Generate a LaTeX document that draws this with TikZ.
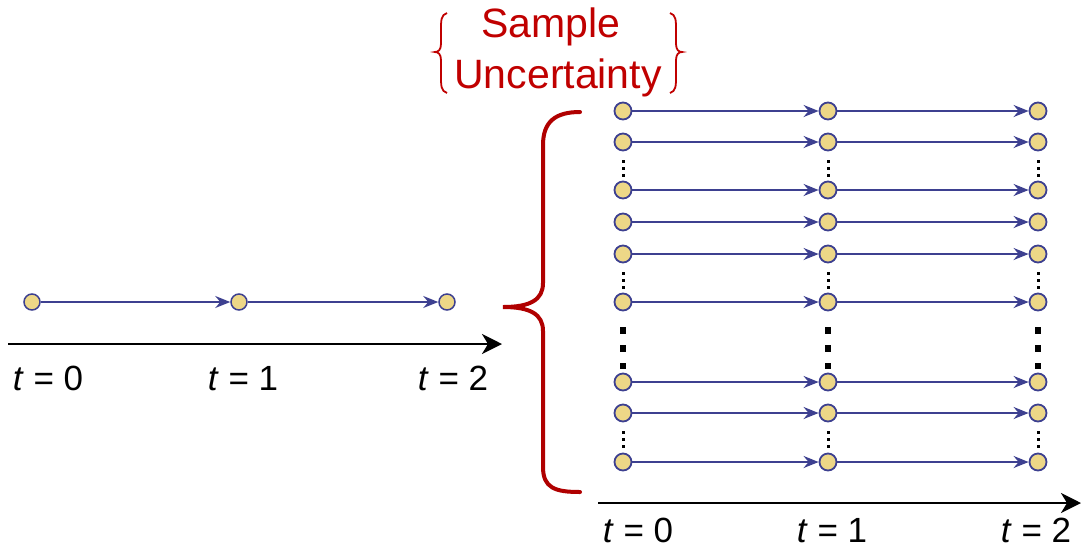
\documentclass[tikz,border=0pt]{standalone}
\usepackage{fontspec}
\setmainfont{Liberation Sans}
\usepackage{tikz}
\usetikzlibrary{arrows.meta,positioning,calc}
\definecolor{sublue}{HTML}{3D4090}
\definecolor{suyellow}{HTML}{EDD787}
\definecolor{sured}{HTML}{B00000}
\definecolor{sutext}{HTML}{C00000}

\tikzset{
  state/.style={circle, draw=sublue, fill=suyellow, line width=1.8pt, minimum size=17pt, inner sep=0pt},
  trans/.style={draw=sublue, line width=2.2pt, -{Stealth[length=15pt,width=12pt,inset=5pt]}},
  timeaxis/.style={draw=black, line width=2.8pt, -{Stealth[length=20pt,width=20pt,inset=6pt]}},
  tlabel/.style={anchor=base, inner sep=0pt, font=\fontsize{35}{40}\selectfont},
  smalldots/.style={draw=black, line width=3pt, dash pattern=on 3pt off 4pt, shorten <=9pt, shorten >=3pt},
  bigdots/.style={draw=black, line width=6.5pt, dash pattern=on 6.5pt off 11.5pt, shorten <=16pt, shorten >=4pt},
}

\begin{document}
\begin{tikzpicture}[x=1pt,y=-1pt]
\useasboundingbox (0,0) rectangle (1081,550);

% single path
\node[state, line width=1.5pt, minimum size=16pt] (s0) at (32,302) {};
\node[state, line width=1.5pt, minimum size=16pt] (s1) at (239,302) {};
\node[state, line width=1.5pt, minimum size=16pt] (s2) at (447,302) {};
\draw[trans, line width=1.8pt] (s0) -- (s1);
\draw[trans, line width=1.8pt] (s1) -- (s2);

\coordinate (la0) at (8,344);
\coordinate (la1) at (502,344);
\draw[timeaxis] (la0) -- (la1);
\node[tlabel] (lt0) at (48,390) {\textit{t} = 0};
\node[tlabel] (lt1) at (243,390) {\textit{t} = 1};
\node[tlabel] (lt2) at (453,390) {\textit{t} = 2};

% sampled paths
\foreach \y [count=\i] in {111,142,190,222,254,302,382,413,462} {
  \node[state] (r\i-c1) at (623,\y) {};
  \node[state] (r\i-c2) at (828,\y) {};
  \node[state] (r\i-c3) at (1038,\y) {};
  \draw[trans] (r\i-c1) -- (r\i-c2);
  \draw[trans] (r\i-c2) -- (r\i-c3);
}
\foreach \c in {1,2,3} {
  \draw[smalldots] (r2-c\c) -- (r3-c\c);
  \draw[smalldots] (r5-c\c) -- (r6-c\c);
  \draw[smalldots] (r8-c\c) -- (r9-c\c);
  \draw[bigdots] (r6-c\c) -- (r7-c\c);
}

\coordinate (ra0) at (598,503);
\coordinate (ra1) at (1081,503);
\draw[timeaxis] (ra0) -- (ra1);
\node[tlabel] (rt0) at (638,542) {\textit{t} = 0};
\node[tlabel] (rt1) at (832,542) {\textit{t} = 1};
\node[tlabel] (rt2) at (1036,542) {\textit{t} = 2};

% big brace
\draw[sured, line width=4pt, line cap=round]
  (580,112) .. controls (555,112) and (543,122) .. (543,145)
  -- (543,283) .. controls (543,300) and (530,307) .. (503,307)
  .. controls (530,307) and (543,314) .. (543,331)
  -- (543,467) .. controls (543,488) and (555,492) .. (580,492);

% label
\node[anchor=base, inner sep=0pt, text=sutext, font=\fontsize{41}{45}\selectfont] (smp) at (551,37) {Sample};
\node[anchor=base, inner sep=0pt, text=sutext, font=\fontsize{41}{45}\selectfont] (unc) at (558,88) {Uncertainty};
\draw[sutext, line width=1.8pt]
  (447,13) .. controls (441,15) and (441,20) .. (441,30)
  -- (441,44) .. controls (441,50) and (438,52) .. (435,52)
  .. controls (438,52) and (441,54) .. (441,60)
  -- (441,76) .. controls (441,86) and (441,91) .. (447,93);
\draw[sutext, line width=1.8pt]
  (670,13) .. controls (676,15) and (676,20) .. (676,30)
  -- (676,44) .. controls (676,50) and (679,52) .. (682,52)
  .. controls (679,52) and (676,54) .. (676,60)
  -- (676,76) .. controls (676,86) and (676,91) .. (670,93);
\end{tikzpicture}
\end{document}
